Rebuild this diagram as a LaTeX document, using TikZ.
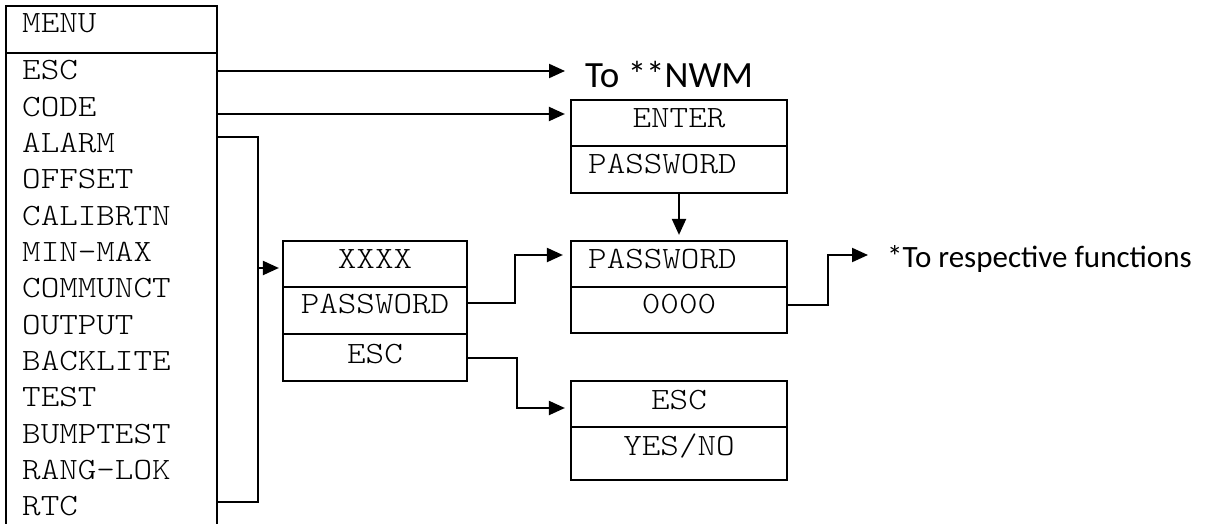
\documentclass[tikz,border=0pt]{standalone}
\usepackage{fontspec}
\setmonofont{Latin Modern Mono Light}[FakeStretch=1.14]
\newfontfamily\calibri{Carlito}
\usetikzlibrary{arrows.meta}
\begin{document}
\begin{tikzpicture}[x=1pt,y=-1pt,
  cell/.style={draw,line width=2.2pt,inner sep=0pt},
  mono/.style={font=\ttfamily\fontsize{31}{31}\selectfont,inner sep=0pt},
  note/.style={font=\calibri\fontsize{#1}{#1}\selectfont,inner sep=0pt},
  link/.style={line width=2.1pt},
  arr/.style={link,-{Triangle[length=16pt,width=14pt]}}]
\useasboundingbox (0,0) rectangle (1210,524);
\clip (0,0) rectangle (1210,524);

% menu column
\node[cell,minimum width=211pt,minimum height=47pt] (menuhead) at (111.5,29.5) {};
\node[cell,minimum width=211pt,minimum height=507pt] (menubody) at (111.5,306.5) {};
\node[mono,anchor=base west] (menutitle) at (22,33) {MENU};
\foreach \t [count=\i from 0] in {ESC,CODE,ALARM,OFFSET,CALIBRTN,MIN-MAX,COMMUNCT,OUTPUT,BACKLITE,TEST,BUMPTEST,RANG-LOK,RTC}
  \node[mono,anchor=base west] (item\i) at (22,{80+36.3*\i}) {\t};

% XXXX / PASSWORD / ESC box
\node[cell,minimum width=184pt,minimum height=46pt] (xxxx) at (375,264) {};
\node[cell,minimum width=184pt,minimum height=47pt] (xpw) at (375,310.5) {};
\node[cell,minimum width=184pt,minimum height=47pt] (xesc) at (375,357.5) {};
\node[mono,anchor=base] (txxxx) at (375,268) {XXXX};
\node[mono,anchor=base] (txpw) at (375,313) {PASSWORD};
\node[mono,anchor=base] (txesc) at (375,363) {ESC};

% ENTER PASSWORD box
\node[cell,minimum width=216pt,minimum height=46pt] (enter) at (679,123) {};
\node[cell,minimum width=216pt,minimum height=47pt] (enterpw) at (679,169.5) {};
\node[mono,anchor=base] (tenter) at (679,128) {ENTER};
\node[mono,anchor=base west] (tenterpw) at (588,173) {PASSWORD};

% PASSWORD 0000 box
\node[cell,minimum width=216pt,minimum height=46pt] (pw) at (679,264) {};
\node[cell,minimum width=216pt,minimum height=46pt] (zero) at (679,310) {};
\node[mono,anchor=base west] (tpw) at (588,268) {PASSWORD};
\node[mono,anchor=base] (tzero) at (679,313) {0000};

% ESC YES/NO box
\node[cell,minimum width=216pt,minimum height=46pt] (escq) at (679,404) {};
\node[cell,minimum width=216pt,minimum height=53pt] (yesno) at (679,453.5) {};
\node[mono,anchor=base] (tescq) at (679,409) {ESC};
\node[mono,anchor=base] (tyesno) at (679,455) {YES/NO};

% free-text targets
\node[note=37,anchor=base west] (nwm) at (585,88) {To **NWM};
\node[note=31,anchor=base west] (resp) at (887,267) {*To respective functions};

% bus from ALARM to RTC
\coordinate (busTop) at (258,137);
\coordinate (busBot) at (258,502);

% connectors
\draw[arr,shorten >=20pt] (menubody.east |- 0,71) -- (nwm.west |- 0,71);
\draw[arr,shorten >=5pt] (menubody.east |- 0,114) -- (enter.west |- 0,114);
\draw[link] (menubody.east |- busTop) -- (busTop) -- (busBot) -- (menubody.east |- busBot);
\draw[arr,shorten >=3pt] (busTop |- 0,268) -- (xxxx.west |- 0,268);
\draw[arr,shorten >=7pt] (xpw.east |- 0,303) -| (515,255) -- (pw.west |- 0,255);
\draw[arr,shorten >=5pt] (xesc.east |- 0,358) -| (517,408) -- (escq.west |- 0,408);
\draw[arr,shorten >=5pt] (enterpw.south) -- (pw.north);
\draw[arr,shorten >=19pt] (zero.east |- 0,305) -| (828,255) -- (resp.west |- 0,255);
\end{tikzpicture}
\end{document}
